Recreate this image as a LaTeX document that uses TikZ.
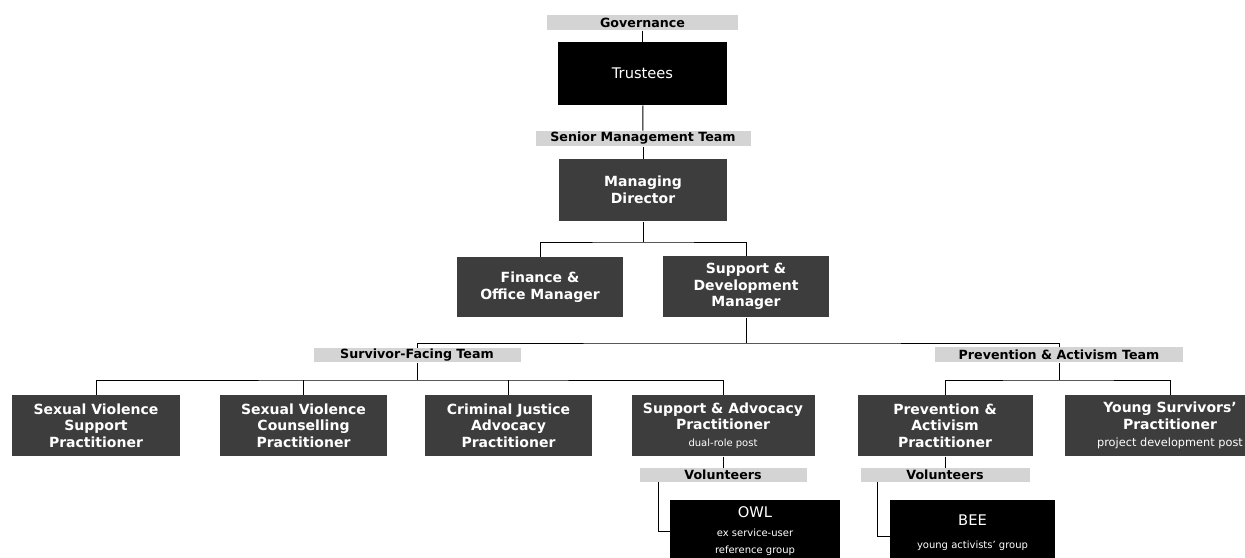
\documentclass[tikz,border=0pt]{standalone}
\usepackage{fontspec}
\setmainfont{DejaVu Sans}
\usetikzlibrary{positioning}

\newcommand\notesize{\mdseries\fontsize{7.5}{9}\selectfont}

\tikzset{every picture/.style={line width=0.75pt}}
\tikzset{
  post/.style={fill=black!76, text=white, align=center, inner sep=0.75pt,
    font=\bfseries\fontsize{10.5}{12.5}\selectfont},
  boardpost/.style={post, fill=black, font=\fontsize{11}{13}\selectfont},
  teamlabel/.style={fill=black!17, inner sep=0pt,
    font=\bfseries\fontsize{9.5}{11}\selectfont},
}

\begin{document}
\begin{tikzpicture}[x=0.75pt,y=0.75pt,yscale=-1,xscale=1]
\useasboundingbox (0,0) rectangle (1245,557);

% Governance
\node [teamlabel, minimum width=143.25pt, minimum height=11.25pt] (gov) at (642.5,22.5) {Governance};
\node [boardpost, minimum width=126.75pt, minimum height=47.25pt] (trustees) at (642.5,73.5) {Trustees};

% Senior Management Team
\node [teamlabel, minimum width=161.25pt, minimum height=11.25pt] (smt) at (643,138.5) {Senior Management Team};
\node [post, minimum width=126pt, minimum height=46.5pt] (md) at (643,190) {Managing\\Director};
\node [post, minimum width=124.5pt, minimum height=45pt] (fin) at (540,287) {Finance \&\\Office Manager};
\node [post, minimum width=124.5pt, minimum height=45.75pt] (sdm) at (746,286.5) {Support \&\\Development\\Manager};

% Team labels
\node [teamlabel, minimum width=155.25pt, minimum height=10.5pt] (sft) at (417,355) {Survivor-Facing Team};
\node [teamlabel, minimum width=186pt, minimum height=11.25pt] (pat) at (1059,354.5) {Prevention \& Activism Team};

% Survivor-Facing posts
\node [post, minimum width=126pt, minimum height=45.75pt] (svsp) at (96,425.5) {Sexual Violence\\Support\\Practitioner};
\node [post, minimum width=125.25pt, minimum height=45.75pt] (svcp) at (303.5,425.5) {Sexual Violence\\Counselling\\Practitioner};
\node [post, minimum width=125.25pt, minimum height=45.75pt] (cjap) at (508.5,425.5) {Criminal Justice\\Advocacy\\Practitioner};
\node [post, minimum width=137.25pt, minimum height=45.75pt] (sap) at (723,425.5) {Support \& Advocacy\\Practitioner\\{\notesize dual-role post}};

% Prevention & Activism posts
\node [post, minimum width=131.25pt, minimum height=45.75pt] (pap) at (945,425.5) {Prevention \&\\Activism\\Practitioner};
\node [post, minimum width=157.5pt, minimum height=45.75pt] (ysp) at (1170,425.5) {Young Survivors'\\Practitioner\\{\mdseries\fontsize{8.5}{10}\selectfont project development post}};

% Volunteers
\node [teamlabel, minimum width=125.25pt, minimum height=10.5pt] (vol1) at (723,475) {Volunteers};
\node [teamlabel, minimum width=126.75pt, minimum height=10.5pt] (vol2) at (945,475) {Volunteers};
\node [boardpost, minimum width=127.5pt, minimum height=46.5pt] (owl) at (755,531) {OWL\\[1pt]{\notesize ex service-user}\\{\notesize reference group}};
\node [boardpost, minimum width=123.75pt, minimum height=49.5pt] (bee) at (972.5,533) {BEE\\[4pt]{\notesize young activists' group}};

% Bus points
\coordinate (mdbus) at (643,242);
\coordinate (sdmbus) at (746,343);
\coordinate (sftbus) at (417,380);
\coordinate (patbus) at (1059,380);
\coordinate (owltap) at (658,482);
\coordinate (beetap) at (877,482);

%Straight Lines
\draw (gov) -- (trustees);
\draw (trustees) -- (smt);
\draw (smt) -- (md);
\draw (md) -- (mdbus);
\draw (fin.north) |- (mdbus) -| (sdm.north);
\draw (sdm) -- (sdmbus);
\draw (sft.north) |- (sdmbus) -| (pat.north);
\draw (sft) -- (sftbus);
\draw (svsp.north) |- (sftbus) -| (sap.north);
\draw (svcp.north) -- (svcp.north |- sftbus);
\draw (cjap.north) -- (cjap.north |- sftbus);
\draw (pat) -- (patbus);
\draw (pap.north) |- (patbus) -| (ysp.north);
\draw (sap) -- (vol1);
\draw (pap) -- (vol2);
\draw (owltap) |- (owl.west);
\draw (beetap) |- ([yshift=2.25pt]bee.west);

\end{tikzpicture}
\end{document}
